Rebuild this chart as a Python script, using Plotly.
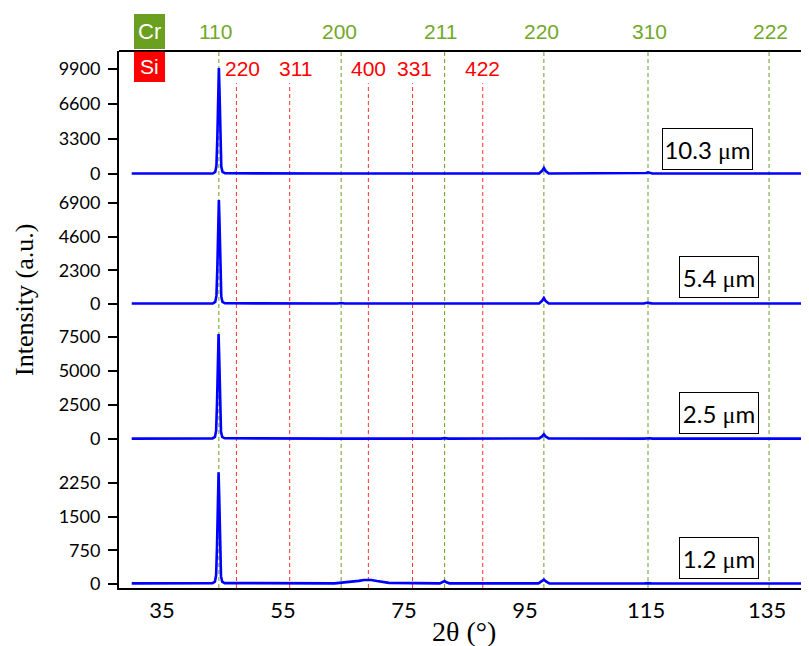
import plotly.graph_objects as go
from plotly.subplots import make_subplots

# ---------------- data ----------------
samples = ["10.3 μm", "5.4 μm", "2.5 μm", "1.2 μm"]

x_103 = [30, 43.4, 43.8, 44.0, 44.15, 44.3, 44.4, 44.5, 44.65, 44.8, 45.0, 45.4,
         64.0, 64.6, 65.2, 81.1, 81.7, 82.3,
         97.3, 97.8, 98.1, 98.4, 98.9, 114.6, 115.0, 115.3, 115.6, 116.0, 141.2]
y_103 = [40, 50, 200, 800, 3500, 8500, 10000, 8000, 3000, 700, 200, 70,
         40, 60, 40, 40, 70, 40,
         50, 300, 570, 280, 50, 40, 90, 160, 90, 40, 40]

x_54 = [30, 43.4, 43.8, 44.0, 44.15, 44.3, 44.4, 44.5, 44.65, 44.8, 45.0, 45.4,
        64.0, 64.6, 65.2, 81.1, 81.7, 82.3,
        97.3, 97.8, 98.1, 98.4, 98.9, 114.6, 115.0, 115.3, 115.6, 116.0, 141.2]
y_54 = [30, 40, 140, 570, 2500, 6000, 7100, 5700, 2100, 500, 140, 50,
        30, 70, 30, 30, 80, 30,
        40, 220, 410, 200, 40, 30, 60, 100, 60, 30, 30]

x_25 = [30, 43.35, 43.75, 43.95, 44.1, 44.25, 44.35, 44.45, 44.6, 44.75, 44.95, 45.35,
        64.0, 64.6, 65.2, 81.1, 81.7, 82.3,
        97.3, 97.8, 98.1, 98.4, 98.9, 114.6, 115.0, 115.3, 115.6, 116.0, 141.2]
y_25 = [30, 40, 150, 620, 2700, 6560, 7720, 6200, 2300, 540, 150, 50,
        30, 50, 30, 30, 60, 30,
        40, 190, 350, 180, 40, 30, 50, 70, 50, 30, 30]

x_12 = [30, 43.35, 43.75, 43.95, 44.1, 44.25, 44.35, 44.45, 44.6, 44.75, 44.95, 45.35,
        63.5, 64.6, 66.0, 67.5, 68.4, 69.0, 69.6, 70.5, 72.5,
        80.9, 81.4, 81.7, 82.0, 82.5,
        97.2, 97.7, 98.1, 98.5, 99.0, 114.6, 115.3, 116.0, 141.2]
y_12 = [15, 20, 50, 200, 870, 2120, 2490, 2000, 750, 175, 50, 20,
        15, 30, 40, 70, 90, 95, 88, 65, 25,
        15, 40, 65, 38, 15,
        15, 55, 95, 50, 15, 10, 20, 10, 10]

series_x = [x_103, x_54, x_25, x_12]
series_y = [y_103, y_54, y_25, y_12]

y_ticks = [[0, 3300, 6600, 9900], [0, 2300, 4600, 6900], [0, 2500, 5000, 7500], [0, 750, 1500, 2250]]
y_ranges = [[-1061, 11597], [-1059, 8113], [-1085, 8787], [-89, 2902]]
x_ticks = [35, 55, 75, 95, 115, 135]

cr_hkl = ["110", "200", "211", "220", "310", "222"]
cr_2theta = [44.4, 64.6, 81.7, 98.1, 115.3, 135.3]
si_hkl = ["220", "311", "400", "331", "422"]
si_2theta = [47.3, 56.1, 69.1, 76.4, 88.0]

# ---------------- layout constants ----------------
cr_label_shift = [-3, -2, -4, -2, 1, 1]
si_label_shift = [6, 6, 0, 2, 0]
GREEN = "#6a9f1f"
GREEN_TXT = "#72a828"
RED = "#ff0000"
BLUE = "#0000ff"
TICKFONT = "Lato"
SERIF = "Liberation Serif"

fig = make_subplots(rows=4, cols=1, shared_xaxes=True, vertical_spacing=0)

domains = [[0.75, 1.0], [0.5, 0.75], [0.25, 0.5], [0.0, 0.25]]

for i in range(4):
    fig.add_trace(go.Scatter(x=series_x[i], y=series_y[i], mode="lines",
                             line=dict(color=BLUE, width=2.6), showlegend=False,
                             hoverinfo="skip"), row=i + 1, col=1)
    yname = "yaxis" if i == 0 else f"yaxis{i+1}"
    fig.layout[yname].update(
        domain=domains[i], range=y_ranges[i], tickvals=y_ticks[i],
        ticktext=[str(v) for v in y_ticks[i]],
        ticks="outside", ticklen=9, tickwidth=1.5, tickcolor="black",
        showline=True, linewidth=2, linecolor="black",
        showgrid=False, zeroline=False,
        tickfont=dict(family=TICKFONT, size=18, color="black"),
        ticklabelstandoff=4, automargin=False,
    )
    xname = "xaxis" if i == 0 else f"xaxis{i+1}"
    fig.layout[xname].update(range=[27.9, 141.9], showgrid=False, zeroline=False,
                             showline=False, showticklabels=False, ticks="",
                             automargin=False)

fig.layout.xaxis4.update(showline=True, linewidth=2, linecolor="black",
                         showticklabels=True, tickvals=x_ticks,
                         ticktext=[str(v) for v in x_ticks],
                         tickfont=dict(family=TICKFONT, size=22, color="black"),
                         ticklabelstandoff=2)

shapes = []
shapes.append(dict(type="line", xref="paper", yref="paper", x0=0, x1=1, y0=1, y1=1,
                   line=dict(color="black", width=2)))
for t in cr_2theta:
    shapes.append(dict(type="line", xref="x", yref="paper", x0=t, x1=t, y0=0, y1=1,
                       line=dict(color=GREEN, width=1, dash="4px,3px"), layer="below"))
for t in si_2theta:
    shapes.append(dict(type="line", xref="x", yref="paper", x0=t, x1=t, y0=0, y1=0.940,
                       line=dict(color="#ff3030", width=1, dash="4px,3px"), layer="below"))
shapes.append(dict(type="rect", xref="paper", yref="paper", x0=0.0217, x1=0.0667,
                   y0=1.0037, y1=1.0689, fillcolor=GREEN, line=dict(width=0)))
shapes.append(dict(type="rect", xref="paper", yref="paper", x0=0.0217, x1=0.0667,
                   y0=0.9423, y1=0.9985, fillcolor=RED, line=dict(width=0)))

annotations = []
C = dict(xanchor="center", yanchor="middle", showarrow=False)
annotations.append(dict(text="Cr", xref="paper", yref="paper", x=0.0442, y=1.0363, **C,
                        font=dict(family="Liberation Sans", size=22, color="white")))
annotations.append(dict(text="Si", xref="paper", yref="paper", x=0.0442, y=0.9704, **C,
                        font=dict(family="Liberation Sans", size=21, color="white")))
for lab, t, s in zip(cr_hkl, cr_2theta, cr_label_shift):
    annotations.append(dict(text=lab, xref="x", yref="paper", x=t, y=1.0372, xshift=s, **C,
                            font=dict(family="Liberation Sans", size=21, color=GREEN_TXT)))
for lab, t, s in zip(si_hkl, si_2theta, si_label_shift):
    annotations.append(dict(text=lab, xref="x", yref="paper", x=t, y=0.9683, xshift=s, **C,
                            font=dict(family="Liberation Sans", size=21, color=RED)))

box_pos = [(0.8529, 0.8175, 87), (0.8696, 0.5791, 76), (0.8696, 0.3250, 76), (0.8696, 0.0559, 76)]
for lab, (bx, by, bw) in zip(samples, box_pos):
    num, unit = lab.split(" ")
    txt = num + " " + '<span style="font-family:Liberation Serif">μ</span>m'
    annotations.append(dict(text=txt, xref="paper", yref="paper", x=bx, y=by, **C,
                            width=bw, height=38, align="center", valign="middle",
                            bordercolor="black", borderwidth=1, borderpad=1, bgcolor="white",
                            font=dict(family=TICKFONT, size=24, color="black")))

annotations.append(dict(text="Intensity (a.u.)", xref="paper", yref="paper", x=-0.1377, y=0.5363,
                        textangle=-90, **C, font=dict(family=SERIF, size=26, color="black")))
annotations.append(dict(text="2θ (°)", xref="paper", yref="paper", x=0.5, y=-0.0801, **C,
                        font=dict(family=SERIF, size=28, color="black")))

# page body has an 8px margin: shrink the figure so the plot lands at the reference pixels
fig.update_layout(width=801, height=638, margin=dict(l=111, r=0, t=43, b=58),
                  plot_bgcolor="white", paper_bgcolor="white",
                  shapes=shapes, annotations=annotations, showlegend=False)

fig.write_html("out.html")
